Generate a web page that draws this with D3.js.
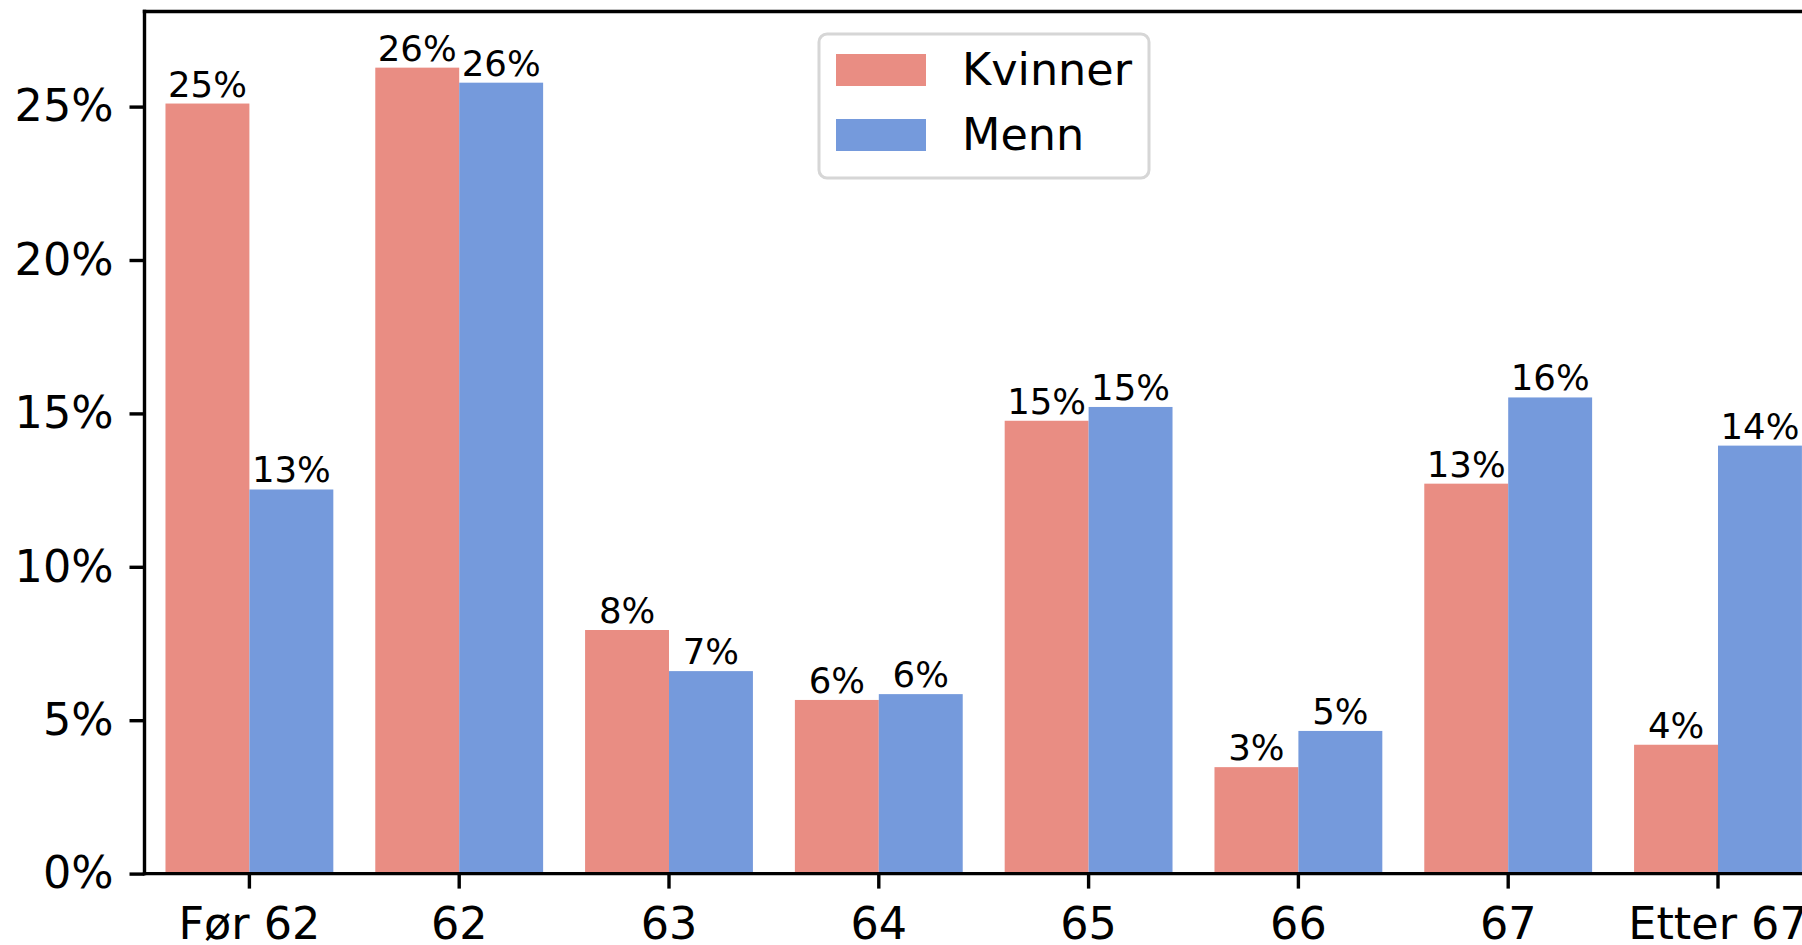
<!DOCTYPE html>
<html>
<head>
<meta charset="utf-8">
<script src="https://cdnjs.cloudflare.com/ajax/libs/d3/7.8.5/d3.min.js"></script>
<style>
  body { margin: 0; background: #fff; }
  svg { display: block; font-family: "DejaVu Sans", sans-serif; }
</style>
</head>
<body>
<div class="chart"></div>
<script>
const categories = ["Før 62", "62", "63", "64", "65", "66", "67", "Etter 67"];
const series = ["Kvinner", "Menn"];
const kvinner = [25.1, 26.27, 7.94, 5.66, 14.76, 3.47, 12.71, 4.2];
const menn = [12.52, 25.78, 6.6, 5.85, 15.21, 4.65, 15.52, 13.95];
const yTicks = [0, 5, 10, 15, 20, 25];

const colors = { Kvinner: "#e98d83", Menn: "#759adc" };

const W = 1802, H = 945;
const plotLeft = 144.5, plotTop = 11.5, plotBottom = 873.6;
const step = 209.8;
const plotRight = plotLeft + step * categories.length;   // plot runs past the picture edge

const data = [];
categories.forEach((c, i) => {
  data.push({cat: c, key: "Kvinner", value: kvinner[i]});
  data.push({cat: c, key: "Menn", value: menn[i]});
});

const svg = d3.select(".chart").append("svg")
  .attr("width", W)
  .attr("height", H);

const xScale = d3.scaleBand()
  .domain(categories)
  .range([plotLeft, plotRight]);

const xInner = d3.scaleBand()
  .domain(series)
  .range([xScale.bandwidth() * 0.1, xScale.bandwidth() * 0.9]);

const yScale = d3.scaleLinear()
  .domain([0, 28.1])
  .range([plotBottom, plotTop]);

// bars
svg.selectAll(".bar")
  .data(data)
  .enter()
  .append("rect")
  .attr("class", "bar")
  .attr("x", d => xScale(d.cat) + xInner(d.key))
  .attr("y", d => yScale(d.value))
  .attr("width", xInner.bandwidth())
  .attr("height", d => yScale(0) - yScale(d.value))
  .attr("fill", d => colors[d.key]);

// value labels
svg.selectAll(".lbl")
  .data(data)
  .enter()
  .append("text")
  .attr("class", "lbl")
  .attr("x", d => xScale(d.cat) + xInner(d.key) + xInner.bandwidth() / 2)
  .attr("y", d => yScale(d.value) - 7)
  .attr("text-anchor", "middle")
  .attr("font-size", "35.5px")
  .attr("fill", "#000")
  .text(d => Math.round(d.value) + "%");

// axes
const yAxis = d3.axisLeft(yScale)
  .tickValues(yTicks)
  .tickFormat(d => d + "%")
  .tickSize(15)
  .tickPadding(16);

const xAxis = d3.axisBottom(xScale)
  .tickSize(15)
  .tickPadding(19);

const gy = svg.append("g")
  .attr("transform", `translate(${plotLeft},0)`)
  .call(yAxis);

const gx = svg.append("g")
  .attr("transform", `translate(0,${plotBottom})`)
  .call(xAxis);

[gx, gy].forEach(g => {
  g.select(".domain").remove();
  g.selectAll(".tick line").attr("stroke", "#000").attr("stroke-width", 3.4);
  g.selectAll(".tick text")
    .attr("font-size", "44.5px")
    .attr("font-family", "DejaVu Sans, sans-serif")
    .attr("fill", "#000");
});

// spines
svg.append("line")
  .attr("x1", plotLeft).attr("x2", plotLeft)
  .attr("y1", plotTop).attr("y2", plotBottom)
  .attr("stroke", "#000").attr("stroke-width", 3.4)
  .attr("stroke-linecap", "square");
svg.append("line")
  .attr("x1", plotLeft).attr("x2", plotRight)
  .attr("y1", plotBottom).attr("y2", plotBottom)
  .attr("stroke", "#000").attr("stroke-width", 3.4)
  .attr("stroke-linecap", "square");
svg.append("line")
  .attr("x1", plotLeft).attr("x2", plotRight)
  .attr("y1", plotTop).attr("y2", plotTop)
  .attr("stroke", "#000").attr("stroke-width", 3.4)
  .attr("stroke-linecap", "square");

// legend
const legend = svg.append("g");
legend.append("rect")
  .attr("x", 819).attr("y", 34)
  .attr("width", 330).attr("height", 144)
  .attr("rx", 8)
  .attr("fill", "#fff").attr("fill-opacity", 0.8)
  .attr("stroke", "#d6d6d6").attr("stroke-width", 3);

legend.selectAll(".lg-sw")
  .data(series)
  .enter()
  .append("rect")
  .attr("x", 836)
  .attr("y", (d, i) => 54 + i * 65)
  .attr("width", 90)
  .attr("height", 32)
  .attr("fill", d => colors[d]);

legend.selectAll(".lg-tx")
  .data(series)
  .enter()
  .append("text")
  .attr("x", 962)
  .attr("y", (d, i) => 85 + i * 65)
  .attr("font-size", "44.5px")
  .attr("fill", "#000")
  .text(d => d);
</script>
</body>
</html>
